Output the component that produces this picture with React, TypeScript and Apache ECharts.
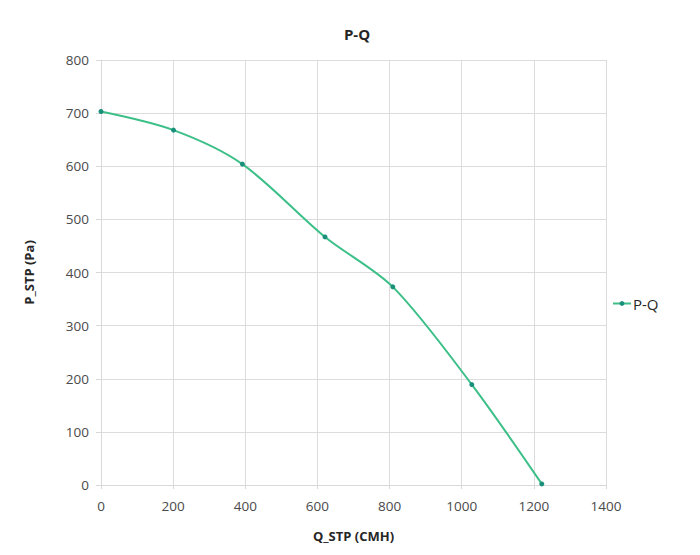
import React, { useEffect, useRef } from "react";
import * as echarts from "echarts";

const qValues = [0, 201, 392, 621, 809, 1028, 1222];
const pValues = [703, 668, 604, 467, 373, 189, 2];
const seriesName = "P-Q";
const titleText = "P-Q";
const xAxisName = "Q_STP (CMH)";
const yAxisName = "P_STP (Pa)";

export default function App() {
  const ref = useRef<HTMLDivElement>(null);
  useEffect(() => {
    const chart = echarts.init(ref.current!, null, { renderer: "svg" });
    const font = "'Open Sans', 'Liberation Sans', sans-serif";
    chart.setOption({
      animation: false,
      backgroundColor: "#ffffff",
      textStyle: { fontFamily: font },
      title: {
        text: titleText,
        left: 352,
        top: 21,
        textAlign: "center",
        textStyle: { fontSize: 15, fontWeight: "bold", color: "#262626", fontFamily: font },
      },
      legend: {
        orient: "vertical",
        left: 607,
        top: 291,
        itemWidth: 18,
        itemHeight: 6,
        itemGap: 4,
        textStyle: { fontSize: 15, color: "#262626", fontFamily: font, padding: [0, 0, 0, -3] },
        data: [{ name: seriesName }],
      },
      grid: { left: 101, right: 94, top: 60, bottom: 70, containLabel: false },
      xAxis: {
        type: "value",
        min: 0,
        max: 1400,
        interval: 200,
        name: xAxisName,
        nameLocation: "middle",
        nameGap: 44,
        nameTextStyle: { fontSize: 13, fontWeight: "bold", color: "#262626", fontFamily: font },
        axisLine: { show: true, lineStyle: { color: "#d9d9d9" } },
        axisTick: { show: true, length: 4, lineStyle: { color: "#d9d9d9" } },
        axisLabel: {
          fontSize: 13.5,
          color: "#4a4a4a",
          margin: 14,
          fontFamily: font,
          formatter: (v: number) => String(v),
        },
        splitLine: { show: true, lineStyle: { color: "#dcdcdc", width: 1 } },
      },
      yAxis: {
        type: "value",
        min: 0,
        max: 800,
        interval: 100,
        name: yAxisName,
        nameLocation: "middle",
        nameGap: 66,
        nameRotate: 90,
        nameTextStyle: { fontSize: 13, fontWeight: "bold", color: "#262626", fontFamily: font },
        axisLine: { show: true, lineStyle: { color: "#d9d9d9" } },
        axisTick: { show: true, length: 5, lineStyle: { color: "#d9d9d9" } },
        axisLabel: {
          fontSize: 13.5,
          color: "#4a4a4a",
          margin: 12,
          fontFamily: font,
          formatter: (v: number) => String(v),
        },
        splitLine: { show: true, lineStyle: { color: "#dcdcdc", width: 1 } },
      },
      series: [
        {
          name: seriesName,
          type: "line",
          smooth: 0.3,
          data: qValues.map((q, i) => [q, pValues[i]]),
          symbol: "circle",
          symbolSize: 5,
          lineStyle: { color: "#3dbf88", width: 2 },
          itemStyle: { color: "#1a8f7a" },
        },
      ],
    });
    return () => chart.dispose();
  }, []);
  return (
    <div
      ref={ref}
      style={{ position: "fixed", left: 0, top: 0, width: 700, height: 555 }}
    />
  );
}
